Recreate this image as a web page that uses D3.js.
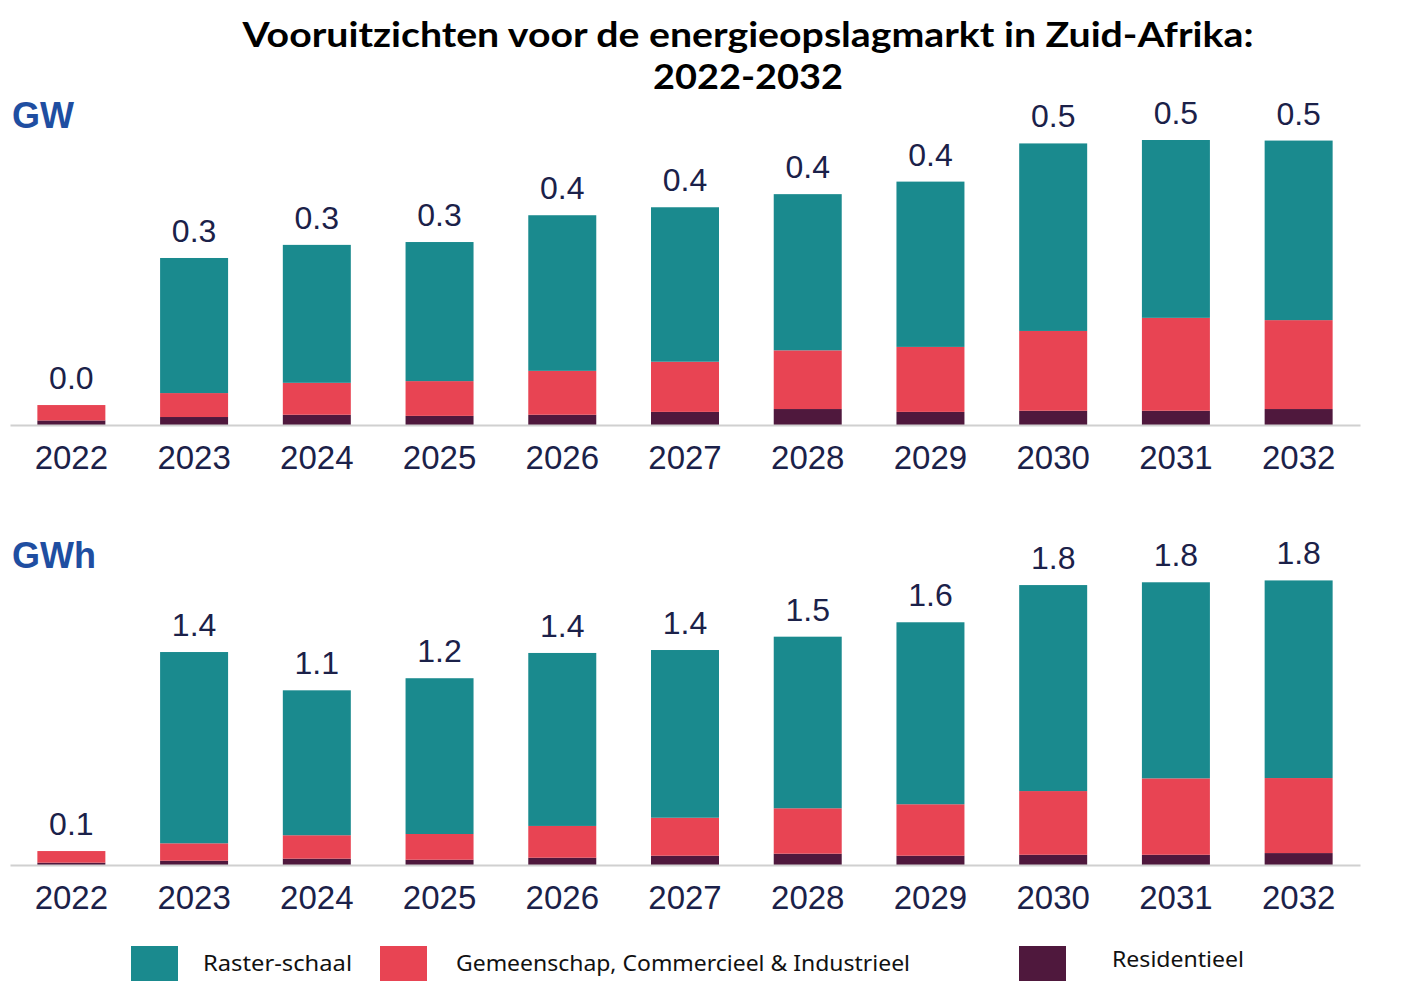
<!DOCTYPE html>
<html>
<head>
<meta charset="utf-8">
<script src="https://cdn.jsdelivr.net/npm/d3@7"></script>
<style>
  html, body { margin: 0; padding: 0; background: #ffffff; }
  svg { display: block; }
</style>
</head>
<body>
<svg id="chart" width="1410" height="993"></svg>
<script>
// ---------- DATA ----------
const years = ["2022","2023","2024","2025","2026","2027","2028","2029","2030","2031","2032"];
const seriesNames = ["Raster-schaal", "Gemeenschap, Commercieel & Industrieel", "Residentieel"];

// GW
const gwResidential = [0.008, 0.014, 0.018, 0.016, 0.018, 0.023, 0.028, 0.023, 0.025, 0.025, 0.028];
const gwCI          = [0.027, 0.042, 0.056, 0.061, 0.077, 0.088, 0.103, 0.114, 0.140, 0.163, 0.156];
const gwGrid        = [0.000, 0.237, 0.242, 0.244, 0.273, 0.271, 0.274, 0.290, 0.329, 0.312, 0.315];
const gwLabels      = ["0.0","0.3","0.3","0.3","0.4","0.4","0.4","0.4","0.5","0.5","0.5"];

// GWh
const gwhResidential = [0.015, 0.028, 0.041, 0.034, 0.047, 0.060, 0.073, 0.060, 0.066, 0.066, 0.077];
const gwhCI          = [0.075, 0.112, 0.151, 0.166, 0.205, 0.245, 0.293, 0.332, 0.411, 0.493, 0.484];
const gwhGrid        = [0.000, 1.234, 0.935, 1.005, 1.116, 1.082, 1.107, 1.174, 1.329, 1.265, 1.275];
const gwhLabels      = ["0.1","1.4","1.1","1.2","1.4","1.4","1.5","1.6","1.8","1.8","1.8"];

const colors = { grid: "#1a8a8e", ci: "#e84453", res: "#4f183d" };
const navy = "#1b2149";

// ---------- CHART ----------
const svg = d3.select("#chart");

// Title
svg.append("text")
  .attr("x", 748).attr("y", 47)
  .attr("text-anchor", "middle")
  .attr("font-family", "Lato, 'Liberation Sans', Arial, sans-serif")
  .attr("font-weight", "bold")
  .attr("font-size", 34)
  .attr("fill", "#000")
  .attr("textLength", 1011)
  .attr("lengthAdjust", "spacingAndGlyphs")
  .text("Vooruitzichten voor de energieopslagmarkt in Zuid-Afrika:");
svg.append("text")
  .attr("x", 748).attr("y", 89)
  .attr("text-anchor", "middle")
  .attr("font-family", "Lato, 'Liberation Sans', Arial, sans-serif")
  .attr("font-weight", "bold")
  .attr("font-size", 34)
  .attr("fill", "#000")
  .attr("textLength", 190)
  .attr("lengthAdjust", "spacingAndGlyphs")
  .text("2022-2032");

const x = d3.scaleBand().domain(years).range([10, 1360]).paddingInner(0.446).paddingOuter(0.223);

function drawPanel(unit, unitY, baseY, maxVal, pxPerUnit, res, ci, grid, labels) {
  const y = d3.scaleLinear().domain([0, maxVal]).range([baseY, baseY - maxVal * pxPerUnit]);
  const g = svg.append("g");

  g.append("text")
    .attr("x", 12).attr("y", unitY)
    .attr("font-family", "'Liberation Sans', Arial, sans-serif")
    .attr("font-weight", "bold")
    .attr("font-size", 36)
    .attr("fill", "#1f4ea1")
    .text(unit);

  const rows = years.map((yr, i) => ({ year: yr, res: res[i], ci: ci[i], grid: grid[i], label: labels[i] }));
  const stack = d3.stack().keys(["res", "ci", "grid"])(rows);
  const colorFor = { res: colors.res, ci: colors.ci, grid: colors.grid };

  g.selectAll("g.layer").data(stack).enter().append("g")
    .attr("class", "layer")
    .attr("fill", d => colorFor[d.key])
    .selectAll("rect").data(d => d).enter().append("rect")
    .attr("x", d => x(d.data.year))
    .attr("width", x.bandwidth())
    .attr("y", d => y(d[1]))
    .attr("height", d => Math.max(0, y(d[0]) - y(d[1])));

  // Axis
  const axis = g.append("g")
    .attr("transform", `translate(0,${baseY})`)
    .call(d3.axisBottom(x).tickSize(0).tickSizeOuter(0));
  axis.select(".domain").attr("stroke", "#d0d0d0").attr("stroke-width", 2);
  axis.selectAll(".tick text")
    .attr("y", 44).attr("dy", 0)
    .attr("font-family", "'Liberation Sans', Arial, sans-serif")
    .attr("font-size", 33)
    .attr("fill", navy);

  // Value labels
  const top = stack[stack.length - 1];
  g.selectAll("text.val").data(top).enter().append("text")
    .attr("class", "val")
    .attr("x", d => x(d.data.year) + x.bandwidth() / 2)
    .attr("y", d => y(d[1]) - 16)
    .attr("text-anchor", "middle")
    .attr("font-family", "'Liberation Sans', Arial, sans-serif")
    .attr("font-size", 32)
    .attr("fill", navy)
    .text(d => d.data.label);
}

drawPanel("GW", 128, 425, 0.5, 570, gwResidential, gwCI, gwGrid, gwLabels);
drawPanel("GWh", 568, 865, 1.8, 155, gwhResidential, gwhCI, gwhGrid, gwhLabels);

// Legend
const legendItems = [
  { name: seriesNames[0], color: colors.grid, sx: 131, tx: 203, ty: 971, w: 149 },
  { name: seriesNames[1], color: colors.ci,   sx: 380, tx: 456, ty: 971, w: 454 },
  { name: seriesNames[2], color: colors.res,  sx: 1019, tx: 1112, ty: 967, w: 132 }
];
const lg = svg.append("g");
legendItems.forEach(it => {
  lg.append("rect").attr("x", it.sx).attr("y", 946).attr("width", 47).attr("height", 35).attr("fill", it.color);
  lg.append("text")
    .attr("x", it.tx).attr("y", it.ty)
    .attr("font-family", "'Noto Sans', 'Open Sans', Arial, sans-serif")
    .attr("font-size", 21)
    .attr("fill", "#111")
    .attr("textLength", it.w)
    .attr("lengthAdjust", "spacingAndGlyphs")
    .text(it.name);
});
</script>
</body>
</html>
